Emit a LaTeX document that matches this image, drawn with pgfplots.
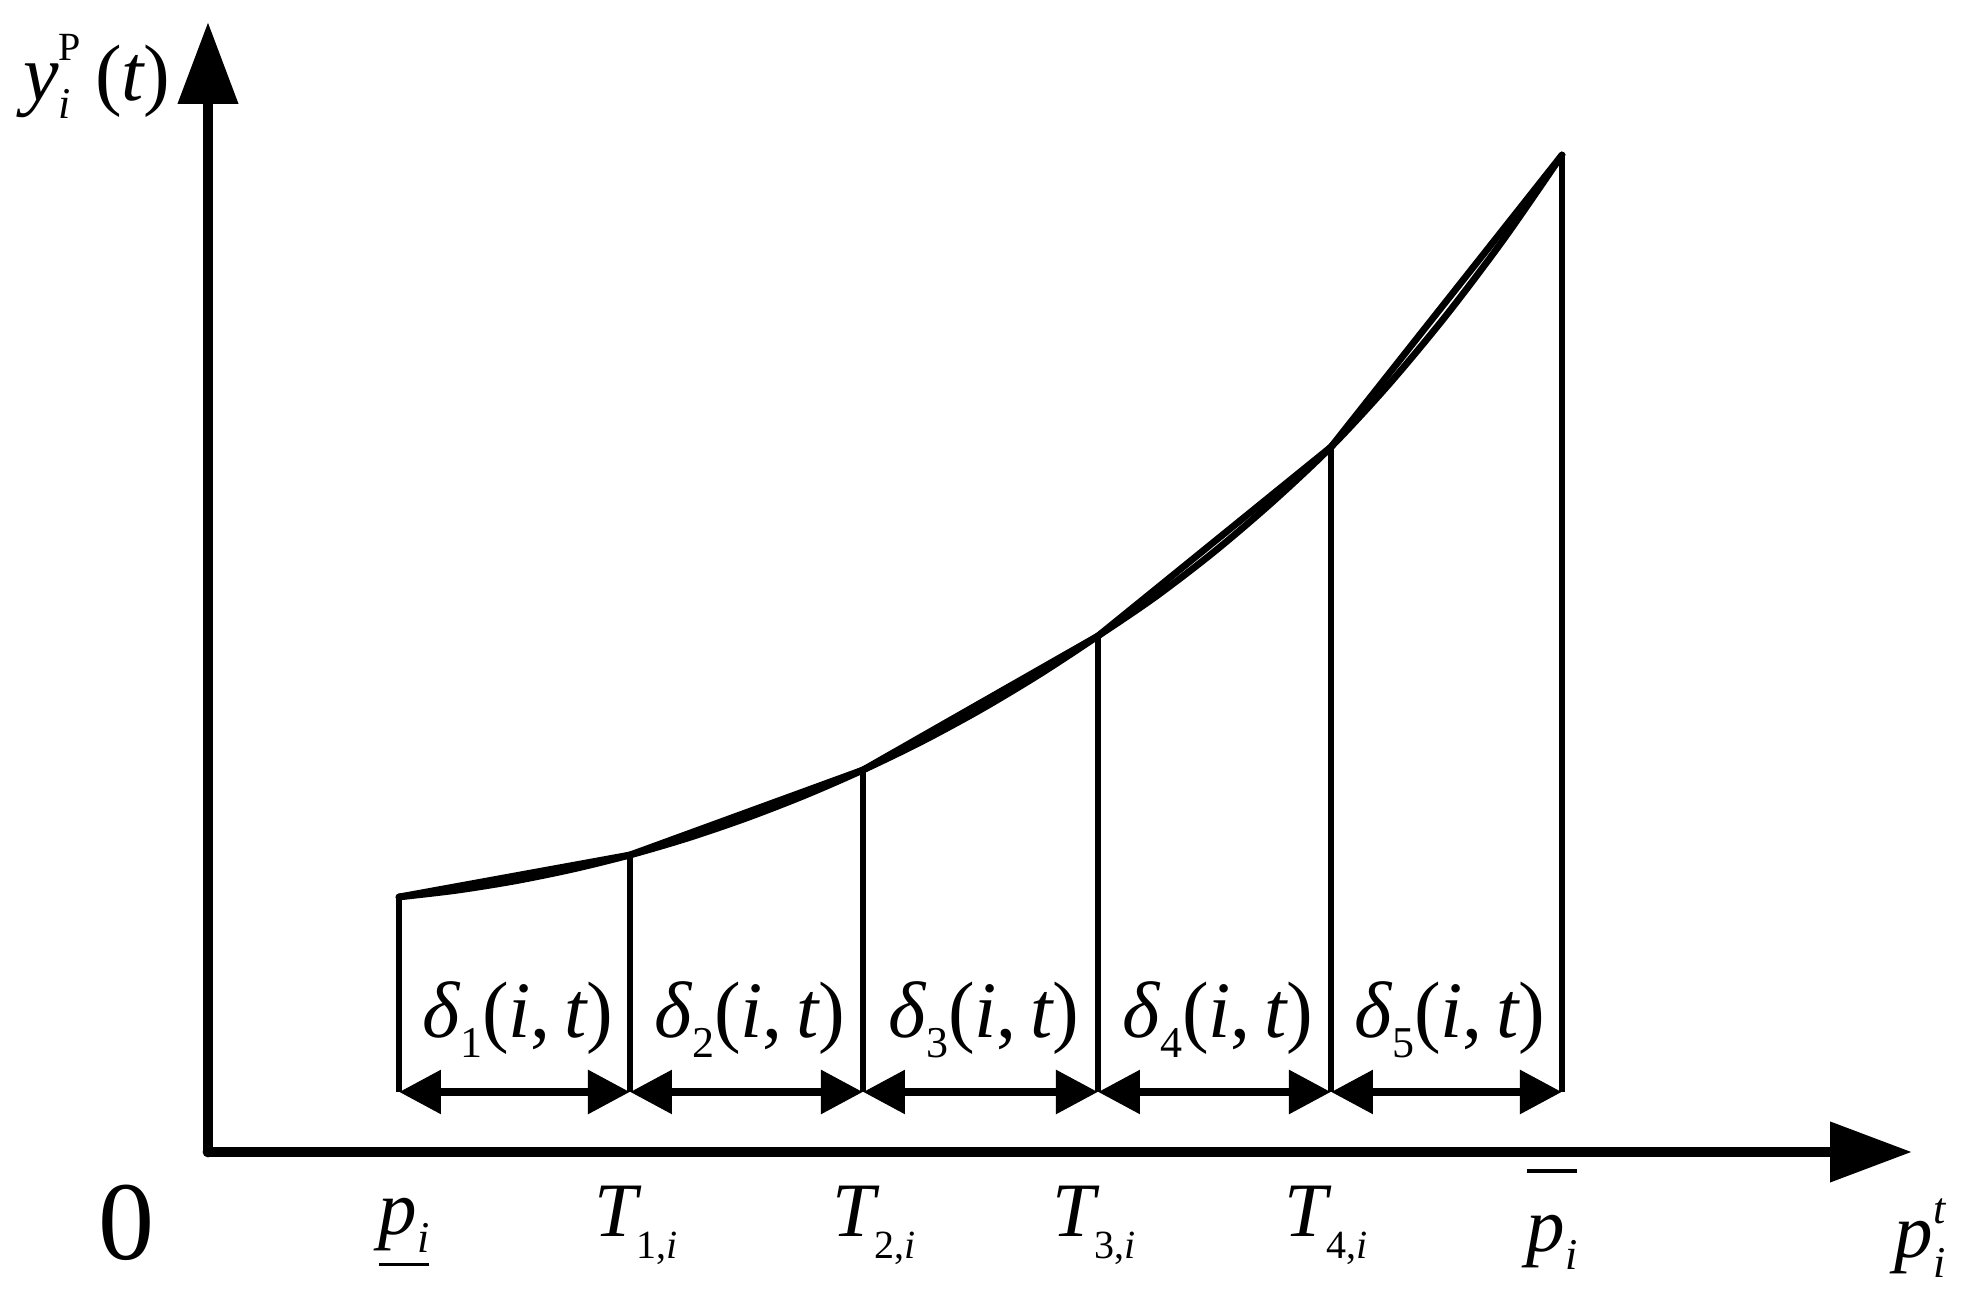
\documentclass[border=0pt]{standalone}
\usepackage{amsmath}
\usepackage{pgfplots}
\pgfplotsset{compat=1.18}
\usepackage{fontspec}
\setmainfont{Liberation Serif}
\usetikzlibrary{arrows.meta}
\newcommand{\lab}{\fontsize{19.25pt}{23pt}\selectfont}
\newcommand{\dlab}{\fontsize{20pt}{24pt}\selectfont}
\newcommand{\ssz}[1]{\fontsize{#1}{#1}\selectfont}
\newcommand{\itx}[1]{{\itshape #1}}
% subscript helpers
\newcommand{\Tl}[1]{\itx{T}\raisebox{-5.5pt}{\ssz{10pt}#1,\itx{i}}}
\newcommand{\dl}[1]{\itx{δ}\raisebox{-5pt}{\ssz{11pt}#1}(\itx{i},\,\itx{t})}
\begin{document}
\begin{tikzpicture}
\begin{axis}[
  scale only axis, width=426pt, height=282.5pt,
  xmin=0, xmax=1704, ymin=0, ymax=1130,
  enlargelimits=false,
  axis lines=left,
  axis line style={line width=2.7pt, line cap=round, -{Triangle[length=20.5pt,width=14.5pt]}},
  xtick=\empty, ytick=\empty,
  clip=false,
]
% convex curve
\addplot[line width=1.7pt, smooth, line cap=round] coordinates {
 (191,255) (248.75,261.75) (306.5,271) (364.25,282.75)
 (422,297) (480.25,314.1) (538.5,334) (596.75,356.6)
 (655,382) (713.75,410.5) (772.5,442.3) (831.25,477.5)
 (890,516) (948.25,555.75) (1006.5,600.5) (1064.75,650.25)
 (1123,705) (1180.75,767.5) (1238.5,837) (1296.25,913.5)
 (1354,997)};
% piecewise linear chords
\addplot[line width=1.7pt, line join=round, line cap=round] coordinates {
 (191,255) (422,297) (655,382) (890,516) (1123,705) (1354,997)};
% vertical lines
\addplot[line width=1.7pt] coordinates {(191,255) (191,60)};
\addplot[line width=1.7pt] coordinates {(422,297) (422,60)};
\addplot[line width=1.7pt] coordinates {(655,382) (655,60)};
\addplot[line width=1.7pt] coordinates {(890,516) (890,60)};
\addplot[line width=1.7pt] coordinates {(1123,705) (1123,60)};
\addplot[line width=1.7pt] coordinates {(1354,997) (1354,60)};
% double arrows
\pgfplotsset{dbl/.style={line width=2.2pt, {Triangle[length=10.5pt,width=10.5pt]}-{Triangle[length=10.5pt,width=10.5pt]}}}
\addplot[dbl] coordinates {(191,60) (422,60)};
\addplot[dbl] coordinates {(422,60) (655,60)};
\addplot[dbl] coordinates {(655,60) (890,60)};
\addplot[dbl] coordinates {(890,60) (1123,60)};
\addplot[dbl] coordinates {(1123,60) (1354,60)};
% delta labels
\node[anchor=base, font=\dlab] at (axis cs:310,114) {\dl{1}};
\node[anchor=base, font=\dlab] at (axis cs:542,114) {\dl{2}};
\node[anchor=base, font=\dlab] at (axis cs:776,114) {\dl{3}};
\node[anchor=base, font=\dlab] at (axis cs:1010,114) {\dl{4}};
\node[anchor=base, font=\dlab] at (axis cs:1242,114) {\dl{5}};
% tick labels
\node[anchor=base, font=\lab] at (axis cs:196,-83) {\underline{\itx{p}\raisebox{-4.5pt}{\ssz{11pt}\itx{i}}}};
\node[anchor=base, font=\lab] at (axis cs:428,-85) {\Tl{1}};
\node[anchor=base, font=\lab] at (axis cs:666,-85) {\Tl{2}};
\node[anchor=base, font=\lab] at (axis cs:886,-85) {\Tl{3}};
\node[anchor=base, font=\lab] at (axis cs:1118,-85) {\Tl{4}};
\node[anchor=base, font=\lab] at (axis cs:1344,-100) {$\overline{\rule{0pt}{0.9em}\mbox{\itx{p}\raisebox{-4.5pt}{\ssz{11pt}\itx{i}}}}$};
\node[anchor=base, font=\lab] at (axis cs:1712,-106) {\itx{p}\makebox[0pt][l]{\raisebox{8.5pt}{\ssz{11pt}\itx{t}}}\raisebox{-5pt}{\ssz{11pt}\itx{i}}};
\node[anchor=center, font=\fontsize{28pt}{32pt}\selectfont] at (axis cs:-81,-71) {0};
\node[anchor=base, font=\dlab] at (axis cs:-111,1051) {\itx{y}\makebox[0pt][l]{\raisebox{10pt}{\ssz{10pt}P}}\raisebox{-4.5pt}{\ssz{11pt}\itx{i}}\hspace{6pt}(\itx{t})};
\coordinate (bl) at (axis cs:-208,-152);
\coordinate (tr) at (axis cs:1767,1152);
\end{axis}
\pgfresetboundingbox
\path (bl) rectangle (tr);
\end{tikzpicture}
\end{document}
